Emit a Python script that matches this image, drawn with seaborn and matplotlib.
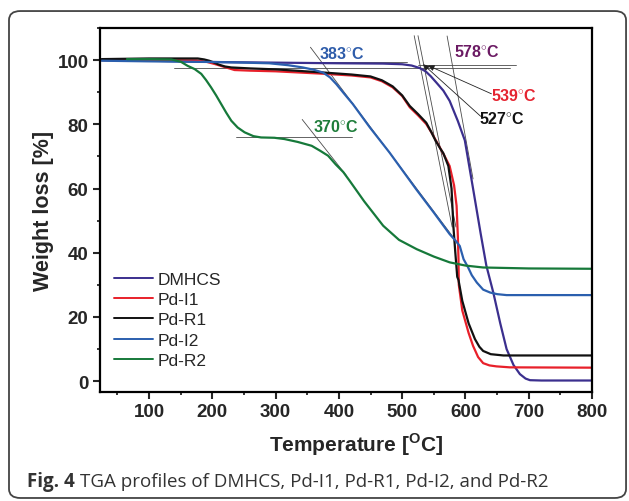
import pandas as pd
import matplotlib
matplotlib.use('Agg')
import matplotlib.pyplot as plt
from matplotlib.patches import FancyBboxPatch
from matplotlib.ticker import MultipleLocator
import seaborn as sns

sns.set_style('ticks')
plt.rcParams['font.family'] = ['Liberation Sans', 'DejaVu Sans']
plt.rcParams['mathtext.fontset'] = 'custom'
plt.rcParams['mathtext.rm'] = 'Liberation Sans'
plt.rcParams['mathtext.bf'] = 'Liberation Sans:bold'

# --- data ---
samples = ['DMHCS', 'Pd-I1', 'Pd-R1', 'Pd-I2', 'Pd-R2']
colors = ['#3b2f8e', '#e8202a', '#111111', '#2b5fae', '#16793a']

dmhcs_t = [25, 100, 200, 300, 400, 470, 500, 515, 528, 537, 545, 554, 565, 575, 588, 599, 612, 624, 633,
           644, 655, 665, 676, 686, 695, 702, 720, 800]
dmhcs_w = [100.0, 99.8, 99.4, 99.2, 99.0, 98.9, 98.7, 98.3, 97.5, 96.5, 95.0, 93.0, 90.5, 87.3, 81.0, 75.0, 60.0, 46.0, 36.0,
           27.6, 18.0, 10.0, 5.0, 2.2, 0.8, 0.3, 0.2, 0.2]

pdi1_t = [25, 100, 175, 190, 205, 220, 235, 260, 300, 370, 420, 450, 468, 485, 500, 512, 525, 538, 547, 556,
          566, 575, 582, 586, 588, 589, 589.5, 595, 605, 612, 620, 628, 638, 649, 670, 800]
pdi1_w = [100.0, 100.0, 99.9, 99.5, 98.7, 97.8, 96.9, 96.7, 96.5, 95.8, 95.2, 94.6, 93.4, 91.5, 88.8, 85.3, 82.8, 80.1, 77.2, 74.0,
          70.5, 67.0, 61.0, 54.6, 45.0, 38.0, 30.0, 22.0, 15.0, 11.0, 7.5, 5.6, 4.9, 4.6, 4.3, 4.2]

pdr1_t = [25, 100, 177, 187, 195, 203, 210, 220, 230, 260, 300, 370, 420, 450, 468, 485, 500, 512, 525, 538,
          546, 552, 560, 565, 573, 578, 581, 584, 586, 587, 589, 595, 605, 615, 622, 628, 640, 660, 800]
pdr1_w = [100.3, 100.5, 100.5, 100.2, 99.8, 99.2, 98.6, 98.0, 97.7, 97.4, 97.1, 96.2, 95.5, 94.9, 93.7, 91.8, 89.0, 85.7, 83.2, 80.5,
          77.6, 75.2, 72.5, 71.0, 67.0, 60.0, 48.0, 40.0, 35.0, 32.5, 31.5, 25.0, 18.0, 13.1, 10.7, 9.4, 8.4, 8.0, 8.0]

pdi2_t = [25, 100, 200, 250, 290, 320, 343, 360, 375, 386, 396, 408, 422, 449, 480, 522, 550, 575, 585,
          591, 597, 604, 610, 618, 628, 639, 650, 665, 800]
pdi2_w = [99.8, 99.6, 99.4, 99.2, 99.0, 98.4, 97.7, 97.0, 96.1, 94.6, 92.5, 89.6, 86.3, 79.0, 71.2, 59.8, 52.5, 45.8, 43.6,
          42.1, 38.0, 35.5, 33.0, 30.7, 28.5, 27.6, 27.1, 26.8, 26.8]

pdr2_t = [65, 100, 135, 150, 161, 172, 182.5, 190, 198, 206, 214, 222, 230, 240, 251, 265, 277, 298,
          314, 335, 357, 370, 383, 395, 407, 417, 440, 470, 495, 523, 550, 575, 600, 628, 700, 800]
pdr2_w = [100.3, 100.3, 100.2, 99.5, 98.2, 97.2, 95.7, 93.8, 91.5, 89.0, 86.3, 83.6, 81.1, 79.0, 77.5, 76.3, 75.9, 75.8,
          75.4, 74.5, 73.3, 71.8, 70.2, 67.5, 65.1, 62.4, 56.0, 48.4, 44.0, 41.1, 38.8, 37.0, 36.0, 35.4, 35.1, 35.0]

# onset construction lines (x0, y0, x1, y1)
onset_lines = [
    (238, 75.9, 420, 75.9), (342, 81.5, 412, 64.0),      # Pd-R2
    (250, 99.3, 508, 99.3), (355, 104.0, 580, 45.0),     # Pd-I2
    (140, 97.5, 670, 97.5), (525, 98.6, 680, 98.6),      # Pd-R1 / Pd-I1 / DMHCS baselines
    (519, 107.6, 579, 48.0), (525, 107.6, 585, 48.0),    # Pd-R1 / Pd-I1
    (571, 107.5, 612, 63.0),                             # DMHCS
]

onset_labels = ['383', '370', '578', '539', '527']
onset_pos = [(405, 102.3), (395, 79.5), (618, 102.9), (677, 89.1), (657, 82.1)]
onset_colors = ['#2e5caa', '#1e7d3a', '#6b1a63', '#e52330', '#111111']
arrow_from = {'539': (641, 89.5), '527': (624, 82.5)}
arrow_to = {'539': (541, 98.3), '527': (533, 98.7)}

frames = []
for name, t, w in zip(samples, [dmhcs_t, pdi1_t, pdr1_t, pdi2_t, pdr2_t],
                      [dmhcs_w, pdi1_w, pdr1_w, pdi2_w, pdr2_w]):
    frames.append(pd.DataFrame({'Temperature': t, 'Weight': w, 'Sample': name}))
df = pd.concat(frames, ignore_index=True)

fig = plt.figure(figsize=(6.29, 5.02), dpi=100)
ax = fig.add_axes([0.1585, 0.217, 0.7827, 0.7253])

sns.lineplot(data=df, x='Temperature', y='Weight', hue='Sample', hue_order=samples,
             palette=dict(zip(samples, colors)), estimator=None, sort=False,
             linewidth=1.6, ax=ax)
for ln in ax.get_lines():
    ln.set_solid_joinstyle('round')

for x0, y0, x1, y1 in onset_lines:
    ax.plot([x0, x1], [y0, y1], color='#4a4a4a', lw=0.6, zorder=1)

for lab, (x, y), c in zip(onset_labels, onset_pos, onset_colors):
    ax.text(x, y, lab + r'$^{\circ}$C', color=c, fontsize=11.5, fontweight='bold',
            ha='center', va='center')
for lab in arrow_from:
    ax.annotate('', xy=arrow_to[lab], xytext=arrow_from[lab],
                arrowprops=dict(arrowstyle='-|>', color='#222222', lw=0.6,
                                mutation_scale=9, shrinkA=0, shrinkB=0))

ax.set_xlim(22, 800)
ax.set_ylim(-3.4, 110)
ax.xaxis.set_major_locator(MultipleLocator(100))
ax.xaxis.set_minor_locator(MultipleLocator(50))
ax.yaxis.set_major_locator(MultipleLocator(20))
ax.yaxis.set_minor_locator(MultipleLocator(10))
ax.tick_params(which='major', direction='out', length=5, width=1.5, labelsize=13.5, pad=3)
ax.tick_params(which='minor', direction='out', length=2.5, width=1.3)
for lbl in ax.get_xticklabels() + ax.get_yticklabels():
    lbl.set_fontweight('bold')
for sp in ax.spines.values():
    sp.set_linewidth(1.6)
    sp.set_color('black')
ax.set_xlabel('')
ax.set_ylabel('')

handles, labels = ax.get_legend_handles_labels()
leg = ax.legend(handles, labels, loc='center left', bbox_to_anchor=(0.181, 0.361),
                bbox_transform=fig.transFigure, frameon=False, fontsize=12.5,
                handlelength=2.25, handletextpad=0.3, labelspacing=0.3,
                borderpad=0, borderaxespad=0)
for ln in leg.get_lines():
    ln.set_linewidth(1.4)

fig.text(0.566, 0.114, r'Temperature [$^{\mathbf{O}}$C]', fontsize=15, fontweight='bold',
         ha='center', va='center')
fig.text(0.069, 0.58, 'Weight loss [%]', fontsize=15.5, fontweight='bold',
         rotation=90, ha='center', va='center')

# caption and rounded frame
fig.patches.append(FancyBboxPatch((0.0143, 0.006), 0.981, 0.970,
                                  boxstyle='round,pad=0,rounding_size=0.018',
                                  transform=fig.transFigure, fill=False,
                                  ec='#444444', lw=1.3))
cap1 = fig.text(0.043, 0.040, 'Fig. 4', fontsize=13.5, fontweight='bold', color='#333333',
                family=['Open Sans', 'DejaVu Sans'], ha='left', va='center')
fig.canvas.draw()
bb = cap1.get_window_extent(fig.canvas.get_renderer())
fig.text(bb.x1 / fig.bbox.width + 0.008, 0.040,
         'TGA profiles of DMHCS, Pd-I1, Pd-R1, Pd-I2, and Pd-R2',
         fontsize=13.5, color='#333333', family=['Open Sans', 'DejaVu Sans'],
         ha='left', va='center')

fig.savefig('out.png', dpi=100)
